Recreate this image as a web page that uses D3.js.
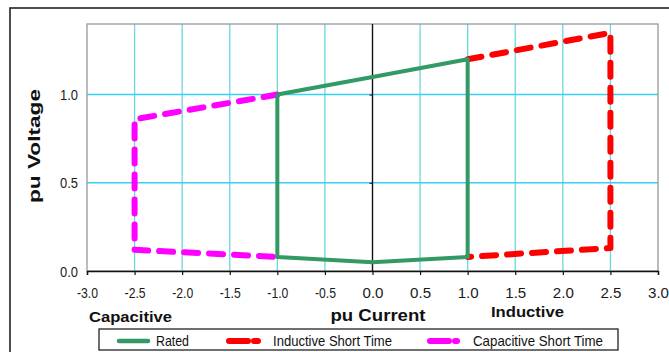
<!DOCTYPE html>
<html lang="en">
<head>
    <meta charset="UTF-8">
    <title>pu Voltage vs pu Current</title>
    <script src="https://cdnjs.cloudflare.com/ajax/libs/d3/7.8.5/d3.min.js"></script>
    <style>
        body { margin: 0; background: #fff; }
        svg { display: block; font-family: "Liberation Sans", Arial, sans-serif; }
    </style>
</head>
<body>
    <div id="chart"></div>
    <script>
        // Data
        const xTicks = [-3.0, -2.5, -2.0, -1.5, -1.0, -0.5, 0.0, 0.5, 1.0, 1.5, 2.0, 2.5, 3.0];
        const yTicks = [0.0, 0.5, 1.0];

        const ratedI = [-1.0, 0.0, 1.0, 1.0, 0.0, -1.0, -1.0];
        const ratedV = [1.0, 1.1, 1.2, 0.08, 0.05, 0.08, 1.0];

        const inductiveI = [1.0, 2.5, 2.5, 1.0];
        const inductiveV = [1.2, 1.35, 0.13, 0.08];

        const capacitiveI = [-1.0, -2.5, -2.5, -1.0];
        const capacitiveV = [1.0, 0.86, 0.12, 0.08];

        const legendLabels = ["Rated", "Inductive Short Time", "Capacitive Short Time"];

        const W = 669, H = 352;
        const svg = d3.select("#chart").append("svg")
            .attr("width", W)
            .attr("height", H);

        // outer frame
        svg.append("rect")
            .attr("x", 10).attr("y", 8)
            .attr("width", 700).attr("height", 400)
            .attr("fill", "none")
            .attr("stroke", "#222")
            .attr("stroke-width", 1.6);

        const x = d3.scaleLinear().domain([-3, 3]).range([87, 658]);
        const y = d3.scaleLinear().domain([0, 1.4]).range([271, 24]);

        // grid
        svg.append("g").selectAll("line")
            .data(xTicks.filter(d => d !== 0 && Math.abs(d) !== 3))
            .join("line")
            .attr("x1", d => x(d)).attr("x2", d => x(d))
            .attr("y1", y(1.4)).attr("y2", y(0))
            .attr("stroke", "#6ad8de")
            .attr("stroke-width", 1.3);

        svg.append("g").selectAll("line")
            .data(yTicks.filter(d => d !== 0))
            .join("line")
            .attr("x1", x(-3)).attr("x2", x(3))
            .attr("y1", d => y(d)).attr("y2", d => y(d))
            .attr("stroke", "#38d0f2")
            .attr("stroke-width", 1.4);

        // plot border
        svg.append("rect")
            .attr("x", x(-3)).attr("y", y(1.4))
            .attr("width", x(3) - x(-3)).attr("height", y(0) - y(1.4))
            .attr("fill", "none")
            .attr("stroke", "#999")
            .attr("stroke-width", 1.3);

        // x axis at bottom
        const xAxis = svg.append("g")
            .attr("transform", `translate(0,${y(0)})`)
            .call(d3.axisBottom(x).tickValues(xTicks).tickFormat(d3.format(".1f")).tickSize(4).tickPadding(12));
        xAxis.select(".domain").attr("stroke", "#111").attr("stroke-width", 1.4);
        xAxis.selectAll(".tick line").attr("stroke", "#111").attr("stroke-width", 1.2);
        xAxis.selectAll("text")
            .attr("font-size", 15)
            .attr("fill", "#1a1a1a")
            .attr("font-family", "'Liberation Sans', Arial, sans-serif")
            .attr("textLength", 21)
            .attr("lengthAdjust", "spacingAndGlyphs")
            .text(d => d3.format(".1f")(d).replace("−", "-"));

        // y axis at x = 0
        const yAxis = svg.append("g")
            .attr("transform", `translate(${x(0)},0)`)
            .call(d3.axisLeft(y).tickValues(yTicks).tickSize(3).tickFormat(""));
        yAxis.select(".domain").attr("stroke", "#111").attr("stroke-width", 1.4)
            .attr("d", `M0,${y(1.4)}V${y(0)}`);
        yAxis.selectAll(".tick line").attr("stroke", "#111");

        // y tick labels along left edge
        svg.append("g").selectAll("text")
            .data(yTicks)
            .join("text")
            .attr("x", 78)
            .attr("y", d => y(d) + 5.5)
            .attr("text-anchor", "end")
            .attr("font-size", 15)
            .attr("fill", "#1a1a1a")
            .attr("textLength", 18)
            .attr("lengthAdjust", "spacingAndGlyphs")
            .text(d3.format(".1f"));

        // series
        const line = d3.line();
        const pts = (xs, ys) => xs.map((d, i) => [x(d), y(ys[i])]);

        svg.append("path")
            .attr("d", line(pts(capacitiveI, capacitiveV)))
            .attr("fill", "none")
            .attr("stroke", "#ff00ff")
            .attr("stroke-width", 6)
            .attr("stroke-dasharray", "14,11")
            .attr("stroke-linecap", "round")
            .attr("stroke-linejoin", "round");

        svg.append("path")
            .attr("d", line(pts(inductiveI, inductiveV)))
            .attr("fill", "none")
            .attr("stroke", "#ff0000")
            .attr("stroke-width", 6)
            .attr("stroke-dasharray", "14,11")
            .attr("stroke-linecap", "round")
            .attr("stroke-linejoin", "round");

        svg.append("path")
            .attr("d", line(pts(ratedI, ratedV)))
            .attr("fill", "none")
            .attr("stroke", "#339966")
            .attr("stroke-width", 4)
            .attr("stroke-linejoin", "round");

        // axis titles
        svg.append("text")
            .attr("transform", "translate(40,146) rotate(-90)")
            .attr("text-anchor", "middle")
            .attr("font-size", 17)
            .attr("font-weight", "bold")
            .attr("fill", "#111")
            .attr("textLength", 114)
            .attr("lengthAdjust", "spacingAndGlyphs")
            .text("pu Voltage");

        svg.append("text")
            .attr("x", 378).attr("y", 321)
            .attr("text-anchor", "middle")
            .attr("font-size", 16)
            .attr("font-weight", "bold")
            .attr("fill", "#111")
            .attr("textLength", 95)
            .attr("lengthAdjust", "spacingAndGlyphs")
            .text("pu Current");

        svg.append("text")
            .attr("x", 89).attr("y", 322)
            .attr("font-size", 15)
            .attr("font-weight", "bold")
            .attr("fill", "#111")
            .attr("textLength", 83)
            .attr("lengthAdjust", "spacingAndGlyphs")
            .text("Capacitive");

        svg.append("text")
            .attr("x", 491).attr("y", 317)
            .attr("font-size", 15)
            .attr("font-weight", "bold")
            .attr("fill", "#111")
            .attr("textLength", 73)
            .attr("lengthAdjust", "spacingAndGlyphs")
            .text("Inductive");

        // legend
        const legend = svg.append("g");
        legend.append("rect")
            .attr("x", 99).attr("y", 329)
            .attr("width", 519).attr("height", 21)
            .attr("fill", "#fff")
            .attr("stroke", "#222")
            .attr("stroke-width", 1.3);

        const legendItems = [
            { label: legendLabels[0], color: "#339966", x0: 119, x1: 148, dash: null, w: 4.5, tx: 156, len: 33 },
            { label: legendLabels[1], color: "#ff0000", x0: 229, x1: 258, dash: "19,6", w: 6, tx: 273, len: 119 },
            { label: legendLabels[2], color: "#ff00ff", x0: 430, x1: 457, dash: "19,6", w: 6, tx: 473, len: 130 }
        ];
        legendItems.forEach(d => {
            legend.append("line")
                .attr("x1", d.x0).attr("x2", d.x1)
                .attr("y1", 341).attr("y2", 341)
                .attr("stroke", d.color)
                .attr("stroke-width", d.w)
                .attr("stroke-linecap", "round")
                .attr("stroke-dasharray", d.dash);
            legend.append("text")
                .attr("x", d.tx).attr("y", 346)
                .attr("font-size", 14.5)
                .attr("fill", "#111")
                .attr("textLength", d.len)
                .attr("lengthAdjust", "spacingAndGlyphs")
                .text(d.label);
        });
    </script>
</body>
</html>
